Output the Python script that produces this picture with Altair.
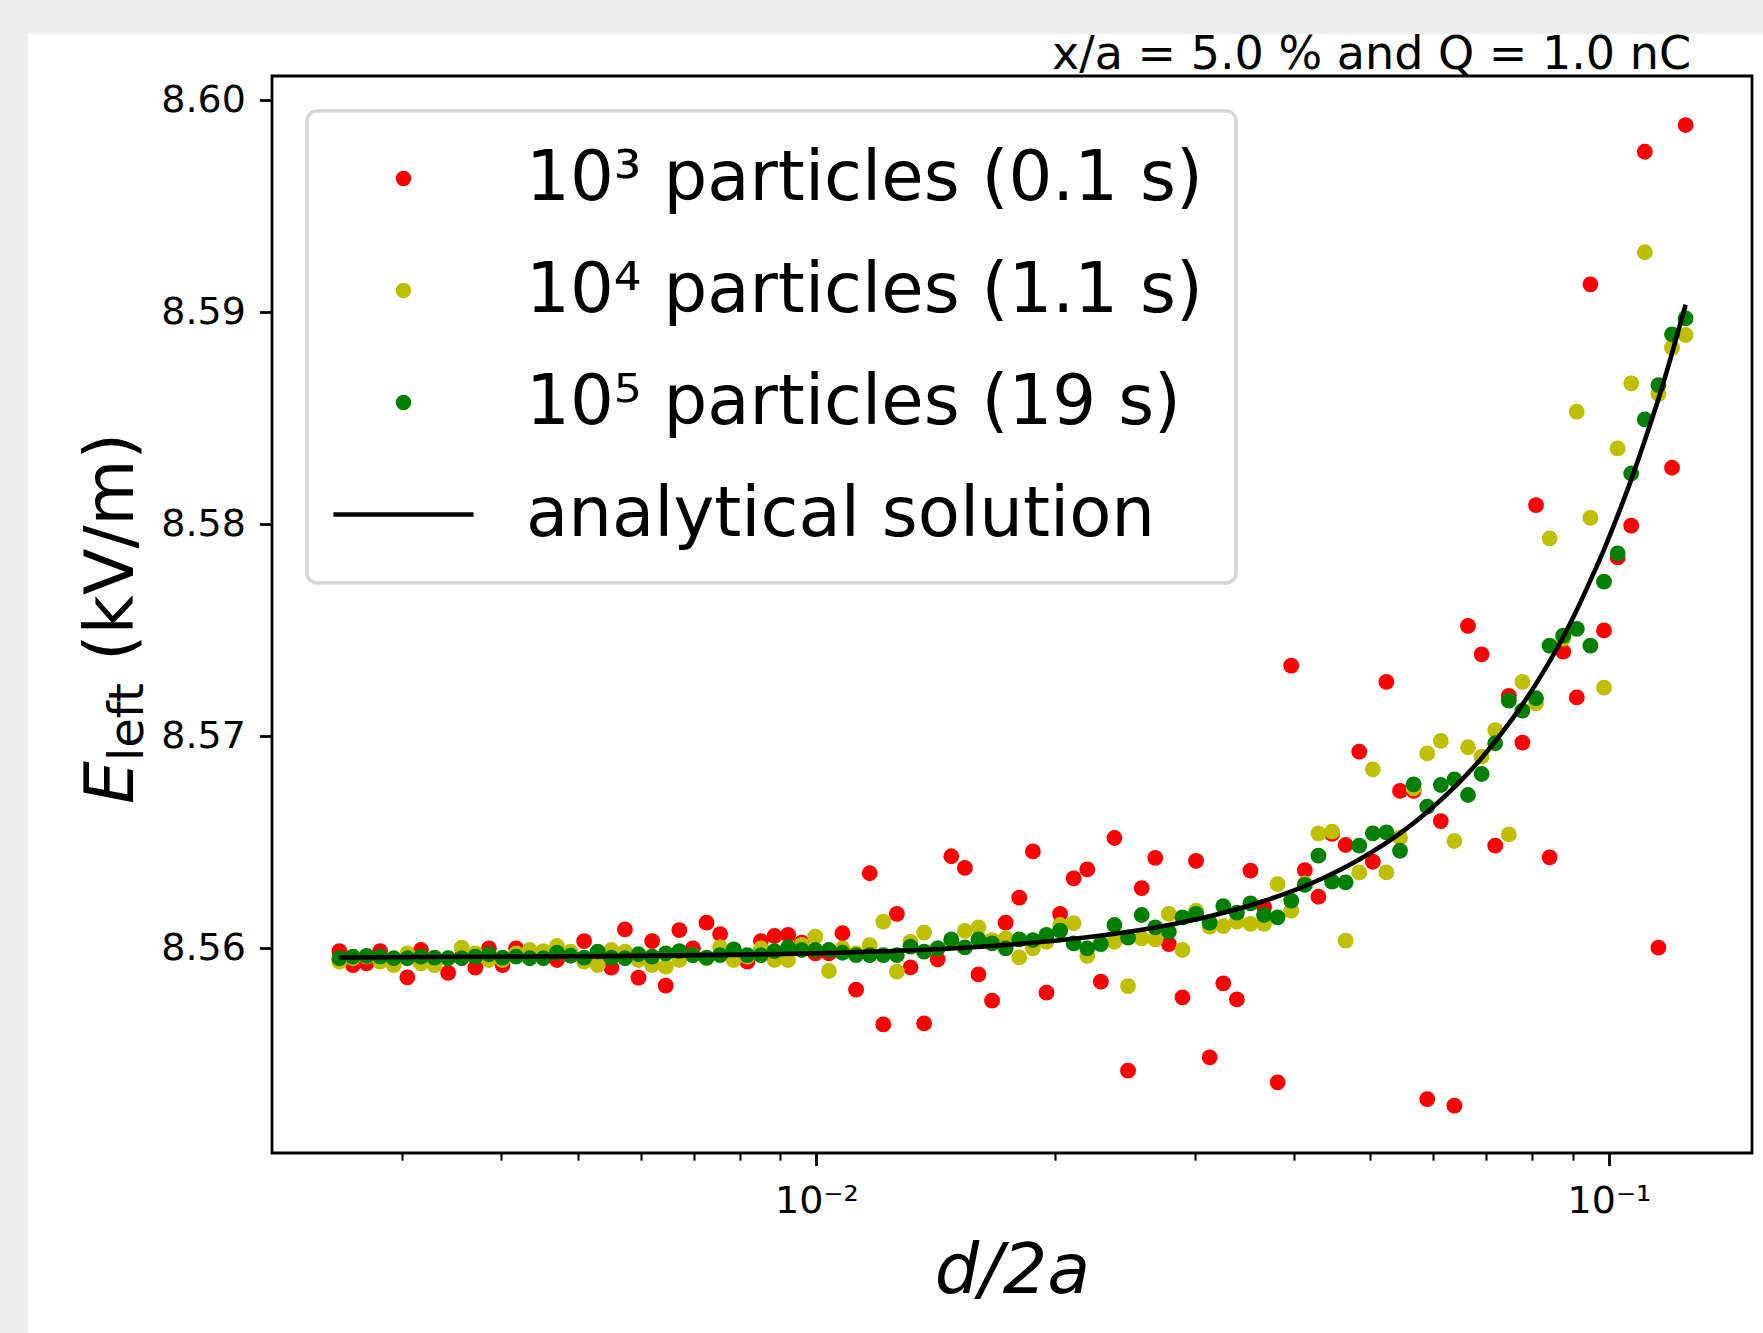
import altair as alt
import pandas as pd

# ---------------- data ----------------
d2a = [0.0025, 0.0026008, 0.0027056, 0.0028147, 0.0029281, 0.0030461, 0.0031689, 0.0032966, 0.0034295, 0.0035677,
       0.0037115, 0.0038611, 0.0040167, 0.0041786, 0.0043470, 0.0045222, 0.0047045, 0.0048941, 0.0050914, 0.0052966,
       0.0055101, 0.0057322, 0.0059632, 0.0062036, 0.0064536, 0.0067137, 0.0069843, 0.0072658, 0.0075587, 0.0078633,
       0.0081803, 0.0085100, 0.0088530, 0.0092098, 0.0095810, 0.0099672, 0.010369, 0.010787, 0.011221, 0.011674,
       0.012144, 0.012634, 0.013143, 0.013673, 0.014224, 0.014797, 0.015393, 0.016014, 0.016659, 0.017331,
       0.018029, 0.018756, 0.019512, 0.020298, 0.021116, 0.021967, 0.022853, 0.023774, 0.024732, 0.025729,
       0.026766, 0.027845, 0.028967, 0.030135, 0.031349, 0.032613, 0.033927, 0.035295, 0.036717, 0.038197,
       0.039737, 0.041338, 0.043004, 0.044738, 0.046541, 0.048417, 0.050368, 0.052398, 0.054510, 0.056707,
       0.058993, 0.061370, 0.063844, 0.066417, 0.069094, 0.071879, 0.074776, 0.077790, 0.080925, 0.084187,
       0.087580, 0.091110, 0.094782, 0.098602, 0.10258, 0.10671, 0.11101, 0.11549, 0.12014, 0.12498]

e_1e3 = [8.55987, 8.55921, 8.55929, 8.55987, 8.55937, 8.55863, 8.55992, 8.55929, 8.55884, 8.55961,
         8.55909, 8.56000, 8.55921, 8.56000, 8.55961, 8.55968, 8.55945, 8.55968, 8.56034, 8.55961,
         8.55909, 8.56089, 8.55862, 8.56034, 8.55824, 8.56086, 8.56000, 8.56121, 8.56067, 8.55984,
         8.55937, 8.56034, 8.56058, 8.56063, 8.56027, 8.55976, 8.55976, 8.56071, 8.55805, 8.56354,
         8.55641, 8.56162, 8.55910, 8.55646, 8.55948, 8.56434, 8.56379, 8.55877, 8.55753, 8.56121,
         8.56239, 8.56457, 8.55791, 8.56162, 8.56330, 8.56372, 8.55843, 8.56520, 8.55423, 8.56284,
         8.56426, 8.56020, 8.55769, 8.56412, 8.55486, 8.55835, 8.55759, 8.56366, 8.56196, 8.55368,
         8.57333, 8.56369, 8.56243, 8.56540, 8.56487, 8.56927, 8.56408, 8.57256, 8.56742, 8.56742,
         8.55289, 8.56600, 8.55258, 8.57520, 8.57386, 8.56484, 8.57190, 8.56970, 8.58090, 8.56429,
         8.57399, 8.57183, 8.59131, 8.57499, 8.57843, 8.57993, 8.59756, 8.56003, 8.58266, 8.59882]

e_1e4 = [8.55937, 8.55953, 8.55961, 8.55937, 8.55921, 8.55976, 8.55929, 8.55921, 8.55953, 8.56003,
         8.55976, 8.55945, 8.55945, 8.55976, 8.55992, 8.55987, 8.56011, 8.55984, 8.55937, 8.55921,
         8.55992, 8.55984, 8.55945, 8.55921, 8.55913, 8.55945, 8.55968, 8.55953, 8.56005, 8.55945,
         8.55961, 8.56000, 8.55945, 8.55945, 8.56016, 8.56055, 8.55893, 8.56000, 8.55976, 8.56015,
         8.56126, 8.55890, 8.56031, 8.56074, 8.56000, 8.56031, 8.56082, 8.56099, 8.56039, 8.56047,
         8.55957, 8.56000, 8.56031, 8.56110, 8.56118, 8.55964, 8.56031, 8.56031, 8.55822, 8.56047,
         8.56042, 8.56162, 8.55992, 8.56177, 8.56102, 8.56105, 8.56126, 8.56115, 8.56115, 8.56303,
         8.56177, 8.56306, 8.56542, 8.56550, 8.56036, 8.56358, 8.56844, 8.56358, 8.56523, 8.56754,
         8.56919, 8.56978, 8.56506, 8.56948, 8.56904, 8.57029, 8.56537, 8.57256, 8.57155, 8.57933,
         8.57460, 8.58530, 8.58030, 8.57229, 8.58357, 8.58664, 8.59282, 8.58614, 8.58832, 8.58892]

e_1e5 = [8.55953, 8.55961, 8.55964, 8.55961, 8.55953, 8.55953, 8.55961, 8.55956, 8.55953, 8.55953,
         8.55961, 8.55972, 8.55956, 8.55961, 8.55953, 8.55953, 8.55979, 8.55965, 8.55956, 8.55984,
         8.55956, 8.55953, 8.55972, 8.55961, 8.55976, 8.55987, 8.55968, 8.55956, 8.55968, 8.55995,
         8.55968, 8.55968, 8.55987, 8.56005, 8.55992, 8.55992, 8.55992, 8.55979, 8.55968, 8.55968,
         8.55968, 8.55968, 8.56008, 8.55984, 8.56000, 8.56042, 8.56004, 8.56042, 8.56023, 8.56000,
         8.56042, 8.56039, 8.56063, 8.56083, 8.56023, 8.56000, 8.56020, 8.56110, 8.56050, 8.56157,
         8.56099, 8.56078, 8.56146, 8.56162, 8.56121, 8.56199, 8.56168, 8.56212, 8.56157, 8.56146,
         8.56225, 8.56299, 8.56437, 8.56314, 8.56311, 8.56484, 8.56542, 8.56547, 8.56460, 8.56773,
         8.56668, 8.56770, 8.56797, 8.56723, 8.56822, 8.56967, 8.57168, 8.57121, 8.57179, 8.57427,
         8.57474, 8.57506, 8.57427, 8.57729, 8.57862, 8.58239, 8.58494, 8.58656, 8.58895, 8.58970]

curve_x = [0.0025, 0.0037115, 0.0055101, 0.0081803, 0.010369, 0.012144, 0.014797, 0.018029, 0.021967, 0.026766,
           0.031349, 0.036717, 0.043004, 0.048417, 0.054510, 0.058993, 0.063844, 0.069094, 0.074776, 0.080925,
           0.087580, 0.091110, 0.094782, 0.098602, 0.10258, 0.10671, 0.11101, 0.11549, 0.12014, 0.12498]
curve_y = [8.55957, 8.55960, 8.55963, 8.55970, 8.55978, 8.55986, 8.55999, 8.56021, 8.56052, 8.56098,
           8.56151, 8.56223, 8.56321, 8.56419, 8.56542, 8.56643, 8.56760, 8.56897, 8.57059, 8.57247,
           8.57468, 8.57595, 8.57735, 8.57880, 8.58040, 8.58210, 8.58395, 8.58590, 8.58805, 8.59035]

series_labels = ["10\u00b3 particles (0.1 s)", "10\u2074 particles (1.1 s)",
                 "10\u2075 particles (19 s)", "analytical solution"]
series_colors = ["#ff0000", "#bfbf00", "#008000", "#000000"]

x_major = [0.01, 0.1]
x_minor = [0.003, 0.004, 0.005, 0.006, 0.007, 0.008, 0.009,
           0.02, 0.03, 0.04, 0.05, 0.06, 0.07, 0.08, 0.09]
y_ticks = [8.56, 8.57, 8.58, 8.59, 8.60]

note_text = "x/a = 5.0 % and Q = 1.0 nC"

# ---------------- tables ----------------
rows = []
for lab, vals in zip(series_labels[:3], [e_1e3, e_1e4, e_1e5]):
    for xv, ev in zip(d2a, vals):
        rows.append({"d2a": xv, "E": ev, "series": lab})
pts = pd.DataFrame(rows)
line_df = pd.DataFrame({"d2a": curve_x, "E": curve_y})
one = pd.DataFrame({"k": [0]})

FONT = "DejaVu Sans"
W, H = 1480, 1077
PAD_L, PAD_T, PAD_R, PAD_B = 272, 76, 11, 180

xscale = alt.Scale(type="log", domain=[0.0020557, 0.15158], nice=False)
yscale = alt.Scale(domain=[8.550348, 8.601132], nice=False, zero=False)

is_major = "datum.value == 0.01 || datum.value == 0.1"
xaxis = alt.Axis(
    values=x_major + x_minor,
    labelExpr="datum.value == 0.01 ? '10\u207b\u00b2' : (datum.value == 0.1 ? '10\u207b\u00b9' : '')",
    labelFont=FONT, labelFontSize=38, labelColor="black",
    labelBaseline="alphabetic", labelPadding=47, labelOverlap=False, labelFlush=False, labelBound=False,
    tickSize={"condition": {"test": is_major, "value": 12.6}, "value": 7.2},
    tickWidth={"condition": {"test": is_major, "value": 2.8}, "value": 2.1},
    tickColor="black", domain=False, grid=False, zindex=2,
    title="d/2a", titleFont=FONT, titleFontSize=70, titleFontStyle="italic",
    titleFontWeight="normal", titleColor="black", titleBaseline="alphabetic",
    titleY=139, titleX=W / 2, titleAlign="center",
)
yaxis = alt.Axis(
    values=y_ticks, format=".2f",
    labelFont=FONT, labelFontSize=38, labelColor="black", labelPadding=14,
    tickSize=12.6, tickWidth=2.8, tickColor="black", domain=False, grid=False, zindex=2,
    title=None,
)

xenc = alt.X("d2a:Q", scale=xscale, axis=xaxis)
yenc = alt.Y("E:Q", scale=yscale, axis=yaxis)

line_symbol = "M-9.04,-0.29L9.04,-0.29L9.04,0.29L-9.04,0.29Z"
legend = alt.Legend(
    title=None, orient="none", legendX=35, legendY=35,
    padding=33, symbolOffset=29, labelOffset=88, rowPadding=42,
    labelFont=FONT, labelFontSize=69, labelColor="black", labelLimit=2000,
    labelBaseline="middle",
    symbolSize=240, symbolStrokeWidth=0, symbolOpacity=1,
    strokeColor="#d6d6d6", fillColor="white", cornerRadius=10,
)

# gray strips of the page outside the figure (left and top)
gray_left = alt.Chart(one).mark_rect(color="#eeeeee").encode(
    x=alt.value(-PAD_L), x2=alt.value(-244), y=alt.value(-PAD_T), y2=alt.value(H + PAD_B)
)
gray_top = alt.Chart(one).mark_rect(color="#eeeeee").encode(
    x=alt.value(-PAD_L), x2=alt.value(W + PAD_R), y=alt.value(-PAD_T), y2=alt.value(-42)
)

points = alt.Chart(pts).mark_point(filled=True, size=250, opacity=1, strokeWidth=0).encode(
    x=xenc, y=yenc,
    color=alt.Color("series:N", scale=alt.Scale(domain=series_labels, range=series_colors), legend=legend),
    shape=alt.Shape("series:N", scale=alt.Scale(domain=series_labels,
                                                range=["circle", "circle", "circle", line_symbol]), legend=legend),
)

curve = alt.Chart(line_df).mark_line(color="black", strokeWidth=4.6, interpolate="monotone").encode(
    x=xenc, y=yenc
)

note = alt.Chart(one).mark_text(
    text=note_text, align="right", baseline="alphabetic", font=FONT, fontSize=46, color="black"
).encode(x=alt.value(1419), y=alt.value(-7))

t_E = alt.Chart(one).mark_text(
    text="E", angle=270, align="left", baseline="alphabetic", font=FONT, fontSize=68,
    fontStyle="italic", color="black"
).encode(x=alt.value(-139.3), y=alt.value(728))
t_sub = alt.Chart(one).mark_text(
    text="left", angle=270, align="left", baseline="alphabetic", font=FONT, fontSize=48, color="black"
).encode(x=alt.value(-129.5), y=alt.value(685))
t_unit = alt.Chart(one).mark_text(
    text="(kV/m)", angle=270, align="left", baseline="alphabetic", font=FONT, fontSize=68, color="black"
).encode(x=alt.value(-139.3), y=alt.value(585))

chart = alt.layer(gray_left, gray_top, points, curve, note, t_E, t_sub, t_unit).properties(
    width=W, height=H,
    padding={"left": PAD_L, "top": PAD_T, "right": PAD_R, "bottom": PAD_B},
    autosize=alt.AutoSizeParams(type="none"),
    background="white",
).configure_view(
    stroke="black", strokeWidth=2.8, fill=None
).configure_legend(
    strokeWidth=3.6
)

chart.save("out.html", embed_options={"renderer": "svg", "actions": False})
